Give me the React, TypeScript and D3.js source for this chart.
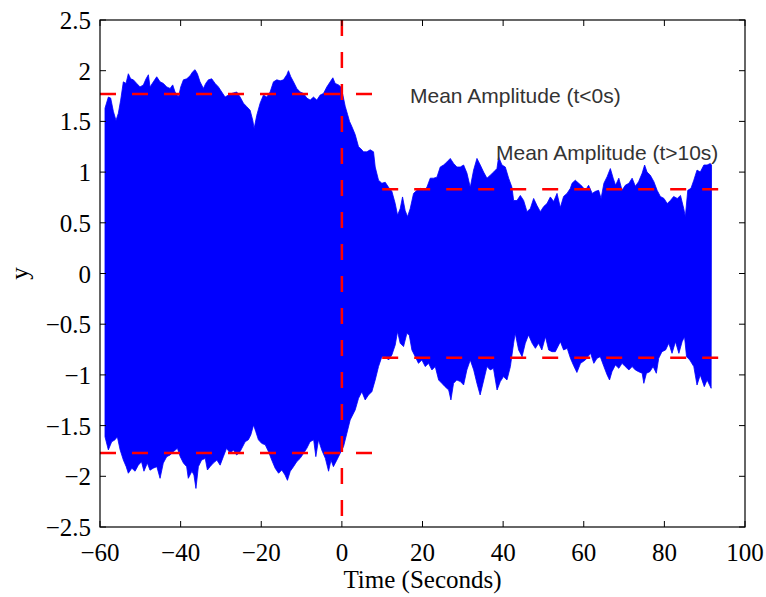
import React from "react";
import * as d3 from "d3";

const xTicks = [-60, -40, -20, 0, 20, 40, 60, 80, 100];
const yTicks = [-2.5, -2, -1.5, -1, -0.5, 0, 0.5, 1, 1.5, 2, 2.5];

const upperT = [-58.76,-57.93,-57.35,-56.69,-56.03,-55.45,-54.87,-54.21,-53.55,-52.97,-52.39,-51.73,-50.9,-50.07,-49.24,-48.58,-48,-47.59,-46.76,-45.93,-45.1,-44.28,-43.45,-42.62,-41.96,-41.38,-40.55,-39.97,-39.31,-38.48,-37.66,-37,-36.42,-35.84,-35.18,-34.35,-33.77,-33.11,-32.28,-31.45,-30.62,-29.8,-28.97,-28.14,-27.31,-26.07,-25.24,-24.42,-23.59,-22.76,-22.1,-21.77,-21.11,-20.28,-19.45,-18.63,-17.8,-16.97,-16.14,-15.31,-14.49,-13.66,-13.25,-12.67,-12,-11.18,-10.35,-9.52,-8.69,-7.87,-7.04,-6.21,-5.38,-4.56,-3.73,-2.9,-2.24,-1.66,-0.83,-0.25,0.25,0.82,1.4,1.9,2.47,3.3,4.13,4.71,5.37,6.2,7.02,7.85,8.27,9.09,9.92,10.75,11.58,12.4,13.23,13.81,14.47,15.05,15.71,16.29,16.95,17.78,18.61,19.44,20.27,21.09,21.92,22.75,23.58,24.4,25.23,26.06,26.89,27.72,28.54,29.37,30.2,31.02,31.85,32.68,33.51,34.33,35.16,35.99,36.82,37.64,38.47,38.88,39.71,40.54,41.37,42.19,42.61,43.44,44.27,45.09,45.92,46.75,47.57,48.4,49.23,50.06,50.88,51.71,52.54,53.37,54.19,55,55.85,56.68,57.1,57.9,58.75,59.58,60.4,61.2,62.1,62.9,63.7,64.3,65,65.8,66.6,67.3,67.9,68.7,69.5,70.3,71.2,72,72.8,73.6,74.5,75.1,75.7,76.5,77.4,78.2,79,79.9,80.7,81.5,82.3,83.2,84,84.8,85.2,85.8,86.6,87.3,88.1,88.9,89.8,90.6,91.4,91.7];
const upperV = [1.63,1.74,1.73,1.6,1.51,1.58,1.71,1.89,1.875,1.97,1.92,1.91,1.875,1.84,1.86,1.92,1.96,1.84,1.89,1.94,1.89,1.875,1.84,1.825,1.86,1.79,1.74,1.84,1.91,1.92,1.95,1.99,2.01,1.97,1.89,1.825,1.875,1.91,1.92,1.875,1.84,1.79,1.74,1.76,1.776,1.79,1.74,1.68,1.645,1.61,1.51,1.43,1.56,1.68,1.76,1.74,1.79,1.89,1.91,1.9,1.91,1.96,2.0,1.94,1.89,1.825,1.79,1.776,1.73,1.71,1.74,1.71,1.76,1.776,1.84,1.89,1.93,1.875,1.86,1.84,1.76,1.65,1.57,1.5,1.45,1.37,1.25,1.23,1.2,1.2,1.22,1.2,1.05,0.92,0.89,0.9,0.85,0.81,0.69,0.575,0.64,0.755,0.62,0.56,0.64,0.79,0.82,0.84,0.82,0.85,0.94,0.94,0.95,1.05,1.07,1.1,1.135,1.085,1.05,1.05,1.07,0.99,0.85,1.02,1.135,1.07,1.0,0.94,0.97,1.0,1.035,1.15,1.07,1.05,0.94,0.85,0.72,0.72,0.77,0.72,0.61,0.64,0.74,0.67,0.61,0.66,0.69,0.755,0.71,0.79,0.65,0.76,0.79,0.84,0.89,0.92,0.89,0.86,0.82,0.87,0.79,0.81,0.82,0.74,0.89,0.955,1.035,0.94,0.87,0.94,0.82,0.87,0.89,0.94,0.86,0.905,0.99,1.07,1.0,0.97,0.905,0.82,0.76,0.74,0.69,0.72,0.76,0.74,0.77,0.64,0.56,0.82,0.84,0.92,1.02,1.0,1.07,1.07,1.085,1.07];

const lowerT = [-58.76,-57.93,-57.1,-56.28,-55.7,-55,-54.2,-53.5,-52.97,-52.1,-51.3,-50.5,-49.7,-49.1,-48.25,-47.6,-46.8,-45.9,-45.1,-44.3,-43.45,-42.6,-41.8,-40.8,-40.1,-39.3,-38.5,-38.1,-37.2,-36.7,-36.2,-35.6,-34.8,-33.9,-33.35,-32.7,-31.9,-31,-30.2,-29.4,-28.6,-27.7,-26.9,-26.1,-25.25,-24,-23.2,-22.6,-21.9,-21.35,-20.7,-19.9,-19,-18.2,-17.4,-16.55,-15.7,-14.9,-14.1,-13.5,-12.8,-12,-11.2,-10.35,-9.5,-8.7,-7.9,-7,-6.46,-5.8,-5,-4.1,-3.3,-2.7,-2.1,-1.25,-0.42,0.41,1.24,2.06,3.3,4.13,4.96,5.78,6.61,7.44,8.27,9.09,9.92,10.75,11.58,12.4,13.23,13.81,14.47,15.3,16.13,16.71,17.37,18.2,19,19.85,20.68,21.5,22.33,23.16,24,24.8,25.6,26.5,27.05,27.7,28.5,29.4,30.2,31,31.85,32.7,33.5,34.3,35.2,36,36.8,37.6,38.5,39.3,40.1,40.95,41.8,42.6,43,43.85,44.7,45.5,46.3,47.2,48,48.8,49.6,50.5,51.3,52.1,52.95,54.2,55,55.9,56.7,57.5,58.3,59.2,60.4,61.7,62.5,63.3,64.1,65,65.8,66.4,67,67.85,68.7,69.5,70.3,71.2,72,72.8,73.6,74.5,74.9,75.55,76.4,77.2,78,78.6,79.4,80.3,81.1,81.9,82.75,83.6,84.4,85,85.5,86.3,87.3,88.1,88.9,89.9,90.6,91.6];
const lowerV = [-1.61,-1.74,-1.66,-1.64,-1.61,-1.74,-1.84,-1.905,-1.97,-1.92,-1.95,-1.89,-1.856,-1.95,-1.87,-1.94,-1.92,-1.905,-2.02,-1.87,-1.806,-1.79,-1.757,-1.724,-1.806,-1.87,-1.905,-2.02,-1.95,-1.987,-2.12,-1.905,-1.84,-1.823,-1.938,-1.905,-1.87,-1.84,-1.89,-1.806,-1.724,-1.773,-1.74,-1.79,-1.757,-1.66,-1.64,-1.593,-1.494,-1.56,-1.64,-1.675,-1.69,-1.757,-1.84,-1.92,-1.97,-1.938,-1.987,-2.04,-1.95,-1.905,-1.856,-1.823,-1.773,-1.724,-1.66,-1.64,-1.806,-1.64,-1.74,-1.823,-1.95,-1.84,-1.905,-1.84,-1.773,-1.707,-1.576,-1.444,-1.346,-1.231,-1.165,-1.247,-1.198,-1.165,-1.05,-0.918,-0.82,-0.82,-0.853,-0.803,-0.705,-0.573,-0.688,-0.721,-0.59,-0.606,-0.754,-0.82,-0.886,-0.853,-0.918,-0.886,-0.951,-0.918,-1.05,-1.083,-1.116,-1.149,-1.247,-1.083,-1.05,-1.066,-1.099,-0.951,-0.853,-0.951,-1.083,-1.198,-1.05,-0.918,-0.951,-0.935,-1.149,-1.066,-1.017,-1.05,-0.918,-0.688,-0.59,-0.754,-0.82,-0.688,-0.606,-0.688,-0.738,-0.688,-0.754,-0.623,-0.754,-0.771,-0.771,-0.672,-0.754,-0.738,-0.836,-0.91,-0.976,-0.886,-0.853,-0.787,-0.886,-0.836,-0.82,-0.918,-1.0,-1.05,-0.968,-0.902,-0.935,-0.886,-0.918,-0.951,-0.918,-0.951,-0.968,-0.984,-1.083,-0.984,-0.968,-0.918,-0.984,-0.836,-0.771,-0.754,-0.688,-0.787,-0.672,-0.787,-0.672,-0.623,-0.82,-0.853,-0.918,-1.1,-1.0,-1.116,-1.05,-1.132];

const meanBefore = 1.77;
const meanAfter = 0.83;
const beforeRange = [-60, 10];
const afterRange = [10, 95];

const W = 766, H = 597;
const L = 100, R = 745, T = 20, B = 527;

function fmt(v: number) {
  const s = String(Math.abs(v));
  return v < 0 ? "\u2212" + s : s;
}

export default function App() {
  const x = d3.scaleLinear().domain([-60, 100]).range([L, R]);
  const y = d3.scaleLinear().domain([-2.5, 2.5]).range([B, T]);

  const pts: [number, number][] = [];
  upperT.forEach((t, i) => pts.push([t, upperV[i]]));
  for (let i = lowerT.length - 1; i >= 0; i--) pts.push([lowerT[i], lowerV[i]]);
  const line = d3.line<[number, number]>().x((d) => x(d[0])).y((d) => y(d[1]));
  const sigPath = line(pts) + "Z";

  const serif = "'Liberation Serif', 'Times New Roman', serif";
  const sans = "'Liberation Sans', Arial, sans-serif";
  const tickLen = 6;
  const dash = "16 16";

  return (
    <svg width={W} height={H} style={{ position: "absolute", left: 0, top: 0, background: "#fff" }}>
      <rect x={0} y={0} width={W} height={H} fill="#fff" />
      <path d={sigPath} fill="#0000ff" stroke="#0000ff" strokeWidth={0.8} />
      <line x1={x(0)} x2={x(0)} y1={y(2.5)} y2={y(-2.5)} stroke="#ff0000" strokeWidth={2.5} strokeDasharray={dash} />
      {[meanBefore, -meanBefore].map((m, i) => (
        <line key={"b" + i} x1={x(beforeRange[0])} x2={x(beforeRange[1])} y1={y(m)} y2={y(m)} stroke="#ff0000" strokeWidth={2.5} strokeDasharray={dash} />
      ))}
      {[meanAfter, -meanAfter].map((m, i) => (
        <line key={"a" + i} x1={x(afterRange[0])} x2={x(afterRange[1])} y1={y(m)} y2={y(m)} stroke="#ff0000" strokeWidth={2.5} strokeDasharray={dash} />
      ))}
      <rect x={L} y={T} width={R - L} height={B - T} fill="none" stroke="#000" strokeWidth={1.2} />
      {xTicks.map((t) => (
        <g key={"x" + t}>
          <line x1={x(t)} x2={x(t)} y1={B} y2={B - tickLen} stroke="#000" strokeWidth={1} />
          <line x1={x(t)} x2={x(t)} y1={T} y2={T + tickLen} stroke="#000" strokeWidth={1} />
          <text x={x(t)} y={B + 34} textAnchor="middle" fontFamily={serif} fontSize={25} fill="#000">{fmt(t)}</text>
        </g>
      ))}
      {yTicks.map((t) => (
        <g key={"y" + t}>
          <line x1={L} x2={L + tickLen} y1={y(t)} y2={y(t)} stroke="#000" strokeWidth={1} />
          <line x1={R} x2={R - tickLen} y1={y(t)} y2={y(t)} stroke="#000" strokeWidth={1} />
          <text x={L - 9} y={y(t) + 9} textAnchor="end" fontFamily={serif} fontSize={25} fill="#000">{fmt(t)}</text>
        </g>
      ))}
      <text x={(L + R) / 2} y={588} textAnchor="middle" fontFamily={serif} fontSize={25} fill="#000">Time (Seconds)</text>
      <text transform={`translate(28, ${(T + B) / 2}) rotate(-90)`} textAnchor="middle" fontFamily={serif} fontSize={25} fill="#000">y</text>
      <text x={410} y={103} fontFamily={sans} fontSize={21} fill="#333">Mean Amplitude (t&lt;0s)</text>
      <text x={496} y={160} fontFamily={sans} fontSize={21} fill="#333">Mean Amplitude (t&gt;10s)</text>
    </svg>
  );
}
